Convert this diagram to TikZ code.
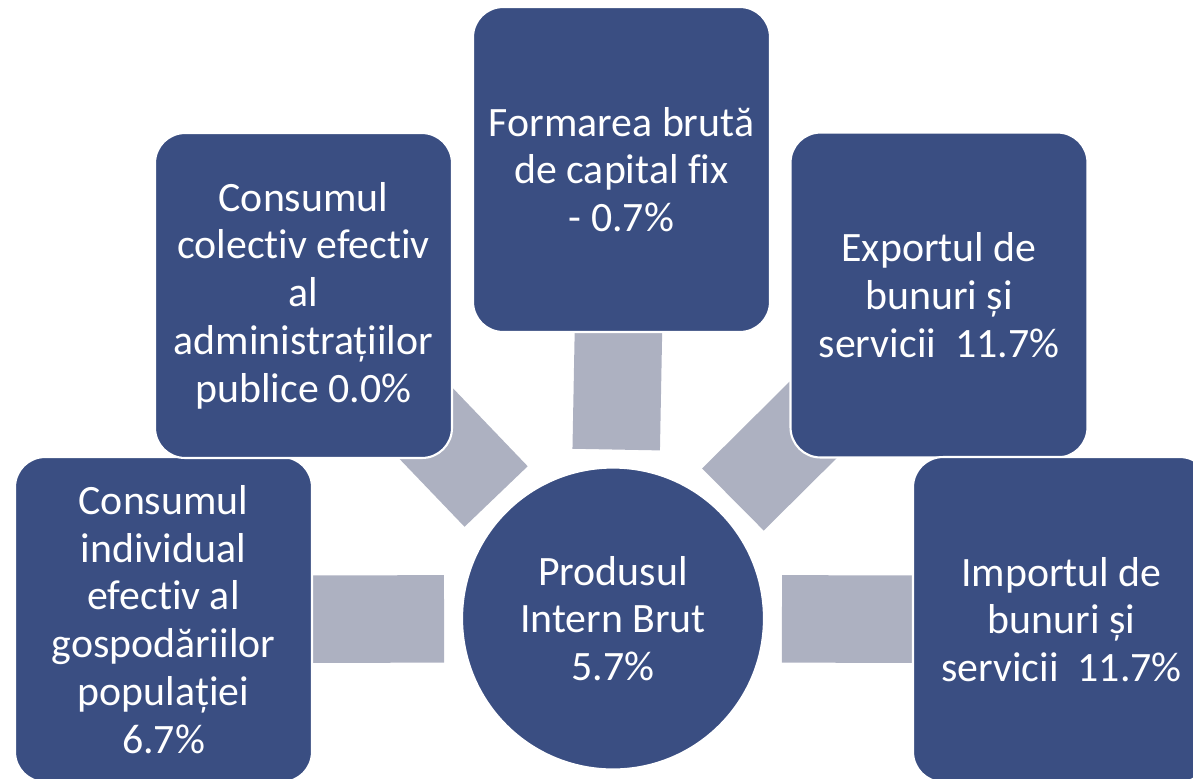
\documentclass[tikz,border=0pt]{standalone}
\usepackage{fontspec}
\setmainfont{Carlito}[Ligatures={NoCommon,NoRare,NoContextual}]
\usetikzlibrary{backgrounds}
\definecolor{boxblue}{RGB}{58,78,130}
\definecolor{conngray}{RGB}{173,177,193}
\newcommand{\nolig}{\kern0pt }
\tikzset{
  lbl/.style={text=white, align=center, font=\fontsize{23.8}{27.2}\selectfont},
  box/.style={lbl, rectangle, rounded corners=0.6cm, fill=boxblue, draw=white,
    line width=1.2pt, minimum width=5.94cm, minimum height=6.5cm, inner sep=0pt},
  hub/.style={lbl, circle, fill=boxblue, draw=white, line width=1.2pt,
    minimum size=6.04cm, inner sep=0pt},
  conn/.style={draw=conngray, line width=1.75cm, shorten <=3.38cm}
}
\begin{document}
\begin{tikzpicture}[x=0.02cm,y=-0.02cm]
\useasboundingbox (0,0) rectangle (1193,778);
\clip (0,0) rectangle (1193,778);
\node[hub] (c) at (613,618.5) {Produsul\\Intern Brut\\5.7\%};
\node[box] (b1) at (163.5,619.5) {Consumul\\individual\\efec\nolig tiv al\\gospodăriilor\\populației\\6.7\%};
\node[box] (b2) at (303.5,295.5) {Consumul\\colec\nolig tiv efec\nolig tiv\\al\\administrațiilor\\publice 0.0\%};
\node[box] (b3) at (621.5,169.5) {Formarea brută\\de capital f\nolig ix\\- 0.7\%};
\node[box] (b4) at (939,295) {Exportul de\\bunuri și\\servicii\ \ 11.7\%};
\node[box] (b5) at (1061.5,619.5) {Importul de\\bunuri și\\servicii\ \ 11.7\%};
\begin{pgfonlayer}{background}
\draw[conn] (c.center) -- (b1.center);
\draw[conn] (c.center) -- (b2.center);
\draw[conn] (c.center) -- (b3.center);
\draw[conn] (c.center) -- (b4.center);
\draw[conn] (c.center) -- (b5.center);
\end{pgfonlayer}
\end{tikzpicture}
\end{document}
